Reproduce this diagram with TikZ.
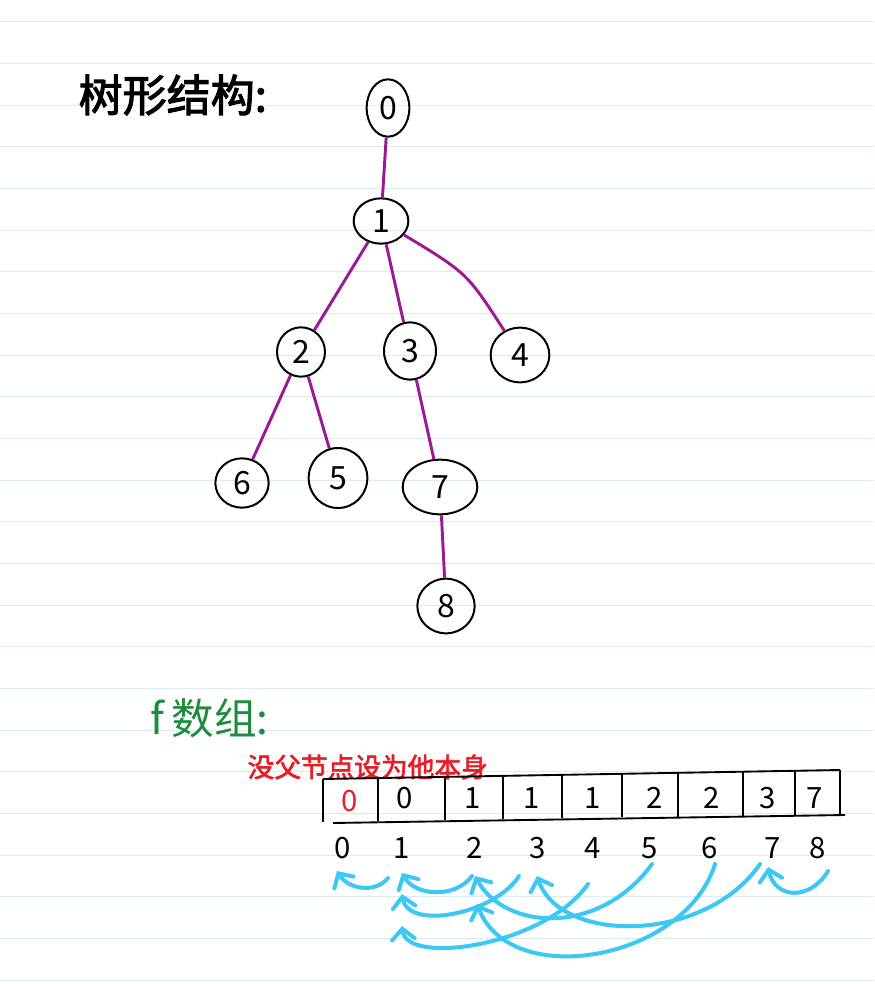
\documentclass[tikz,border=0pt]{standalone}
\usepackage{fontspec}
\usepackage{tikz}
\usetikzlibrary{shapes.geometric,arrows.meta,calc}
\setmainfont{Noto Sans CJK SC}
\newfontfamily\cjkheavy[FakeBold=2.5]{Noto Sans CJK SC}

\begin{document}
\begin{tikzpicture}[x=0.75pt,y=-0.75pt,
  treenode/.style={ellipse,draw,line width=1.5pt,inner sep=0pt,font=\fontsize{24}{24}\selectfont},
  treeedge/.style={edgepurple,line width=2.2pt},
  cellval/.style={font=\fontsize{22}{22}\selectfont},
  idxlabel/.style={font=\fontsize{22}{22}\selectfont},
  parentarrow/.style={arrowblue,line width=3pt,line cap=round,-{Straight Barb[length=8pt,width=17pt,line cap=round]}}]
  \definecolor{edgepurple}{RGB}{155,25,150}
  \definecolor{arrowblue}{RGB}{60,200,245}
  \definecolor{notegreen}{RGB}{30,140,60}
  \definecolor{notered}{RGB}{230,30,40}
  \definecolor{paperline}{RGB}{218,236,243}
  \useasboundingbox[fill=white] (0,0) rectangle (874,984);
  \foreach \k in {0,...,23}{%
    \draw[paperline,line width=0.8pt] (0,{21.7+41.67*\k}) -- (874,{21.7+41.67*\k});
  }
  \node[anchor=west,font=\cjkheavy\fontsize{33}{33}\selectfont] (title) at (74,95) {树形结构:};
  % tree
  \node[treenode,minimum width=32pt,minimum height=43pt] (n0) at (388,108) {0};
  \node[treenode,minimum width=41pt,minimum height=34pt] (n1) at (381,221) {1};
  \node[treenode,minimum width=36pt,minimum height=37pt] (n2) at (301,352) {2};
  \node[treenode,minimum width=39pt,minimum height=43pt] (n3) at (410,351) {3};
  \node[treenode,minimum width=44pt,minimum height=41pt] (n4) at (520,355) {4};
  \node[treenode,minimum width=40pt,minimum height=37pt] (n6) at (242,483) {6};
  \node[treenode,minimum width=44pt,minimum height=45pt] (n5) at (338,478) {5};
  \node[treenode,minimum width=56pt,minimum height=41pt] (n7) at (440,487) {7};
  \node[treenode,minimum width=43pt,minimum height=41pt] (n8) at (446,606) {8};
  \draw[treeedge] (n0) -- (n1);
  \draw[treeedge] (n1) -- (n2);
  \draw[treeedge] (n1) -- (n3);
  \draw[treeedge] (n1) .. controls (467,273) .. (n4);
  \draw[treeedge] (n2) -- (n6);
  \draw[treeedge] (n2) -- (n5);
  \draw[treeedge] (n3) -- (n7);
  \draw[treeedge] (n7) -- (n8);
  % f array
  \node[anchor=west,text=notegreen,font=\fontsize{32}{32}\selectfont] (ftitle) at (146,718) {f\,数组:};
  \node[anchor=west,text=notered,font=\cjkheavy\fontsize{20}{20}\selectfont] (rootnote) at (243,767) {没父节点设为他本身};
  \draw[line width=1.4pt] (323,779) -- (840,770);
  \draw[line width=1.4pt] (333,823) -- (845,815);
  \foreach \x in {323,378,445,503,562,622,678,743,795,840}{%
    \draw[line width=1.4pt] (\x,{779-9*(\x-323)/517}) -- (\x,{822-8*(\x-323)/517});
  }
  \node[cellval,text=notered] (c0) at (350,801) {0};
  \foreach \i/\x/\v in {1/405/0,2/473/1,3/532/1,4/593/1,5/655/2,6/712/2,7/768/3,8/815/7}{%
    \node[cellval] (c\i) at (\x,798) {\v};
  }
  \foreach \i/\x in {0/343,1/402,2/475,3/538,4/593,5/650,6/710,7/773,8/818}{%
    \node[idxlabel] (i\i) at (\x,848) {\i};
  }
  \draw[parentarrow] ($(i1)+(-14,30)$) .. controls +(-13,16) and +(11,18) .. ($(i0)+(-6,23)$);
  \draw[parentarrow] ($(i2)+(-3,28)$) .. controls +(-17,23) and +(13,23) .. ($(i1)+(0,25)$);
  \draw[parentarrow] ($(i3)+(-19,28)$) .. controls +(-24,38) and +(6,37) .. ($(i1)+(0,46)$);
  \draw[parentarrow] ($(i4)+(-5,36)$) .. controls +(-43,62) and +(4,40) .. ($(i1)+(0,78)$);
  \draw[parentarrow] ($(i5)+(2,16)$) .. controls +(-52,72) and +(30,55) .. ($(i2)+(0,28)$);
  \draw[parentarrow] ($(i6)+(5,16)$) .. controls +(-30,97) and +(33,87) .. ($(i2)+(2,56)$);
  \draw[parentarrow] ($(i7)+(-13,16)$) .. controls +(-55,80) and +(23,68) .. ($(i3)+(-1,28)$);
  \draw[parentarrow] ($(i8)+(10,23)$) .. controls +(-18,30) and +(7,32) .. ($(i7)+(-5,19)$);
\end{tikzpicture}
\end{document}
